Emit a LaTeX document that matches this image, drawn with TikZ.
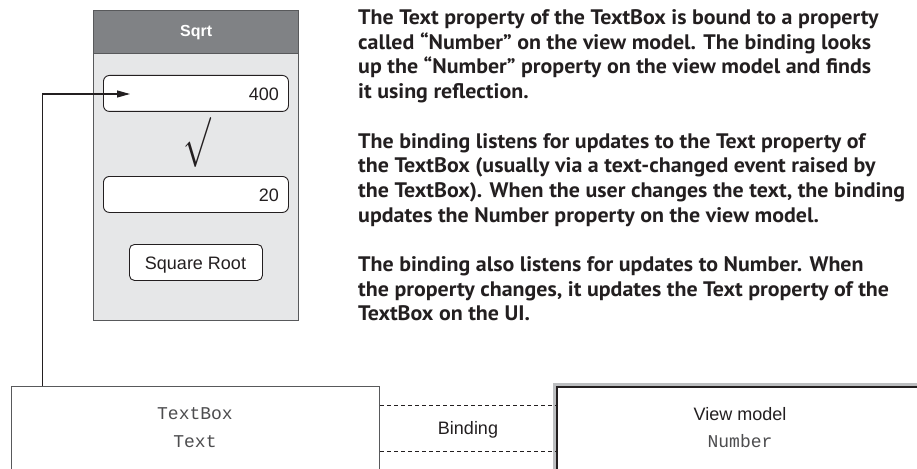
\documentclass[tikz,border=0pt]{standalone}
\usepackage{fontspec}
\usepackage{graphicx}
\usetikzlibrary{arrows.meta}
\newfontfamily\uifont{Liberation Sans}
\newfontfamily\codefont{Liberation Mono}
\newfontfamily\parafont{PT Sans}
\definecolor{ink}{HTML}{231F20}
\definecolor{winedge}{HTML}{58595B}
\definecolor{winbody}{HTML}{E6E7E8}
\definecolor{titlegray}{HTML}{808285}
\definecolor{shadowgray}{HTML}{BCBEC0}
\definecolor{codegray}{HTML}{4D4D4F}
\newlength\myparaw
\newcommand\myparaline[1]{\scalebox{\mysx}[1]{\parafont\bfseries\fontsize{21}{22}\selectfont #1}}
\begin{document}
\settowidth\myparaw{\parafont\bfseries\fontsize{21}{22}\selectfont the TextBox). When the user changes the text, the binding}
\pgfmathsetmacro\mysx{547/\myparaw}
\begin{tikzpicture}[x=1pt,y=-1pt,
  field/.style={draw=ink, fill=white, line width=0.9pt, rounded corners=6pt, inner sep=0pt, anchor=north west},
  uitext/.style={text=ink, inner sep=0pt, font=\uifont\fontsize{18}{18}\selectfont},
  codetext/.style={text=codegray, inner sep=0pt, anchor=base, font=\codefont\fontsize{18}{18}\selectfont},
  paraline/.style={anchor=base west, inner sep=0pt, text=ink},
  conn/.style={draw=ink, line width=1.1pt},
  dashline/.style={draw=ink, line width=0.9pt, dash pattern=on 4pt off 3pt}]
\useasboundingbox (0,0) rectangle (917,468);
\clip (0,0) rectangle (917,468);
% window
\node[draw=winedge, fill=winbody, line width=1.2pt, minimum width=205pt, minimum height=310pt, anchor=north west, inner sep=0pt] (win) at (93,10) {};
\node[draw=winedge, fill=titlegray, line width=1.2pt, minimum width=205pt, minimum height=43pt, anchor=north west, inner sep=0pt, text=white, font=\uifont\bfseries\fontsize{16}{16}\selectfont] (title) at (win.north west) {Sqrt};
\node[field, minimum width=185pt, minimum height=36pt] (tb1) at (103,75) {};
\node[uitext, anchor=base east] (v400) at (279,100) {400};
\node[text=ink, inner sep=0pt] (surd) at (197,142) {\scalebox{3.3}[5.0]{$\surd$}};
\node[field, minimum width=185pt, minimum height=36pt] (tb2) at (103,176) {};
\node[uitext, anchor=base east] (v20) at (279,201) {20};
\node[field, rounded corners=5pt, minimum width=133pt, minimum height=36pt] (btn) at (129,244) {};
\node[uitext, anchor=base] (btntext) at (195.5,269) {Square Root};
% bottom boxes
\node[draw=winedge, fill=white, line width=1.2pt, minimum width=368.5pt, minimum height=100pt, anchor=north west, inner sep=0pt] (lb) at (10.5,386) {};
\node[codetext] (lbt1) at (195,419) {TextBox};
\node[codetext] (lbt2) at (195,447.5) {Text};
\node[fill=shadowgray, minimum width=390pt, minimum height=100pt, anchor=north west, inner sep=0pt] (shadow) at (552.5,382.5) {};
\node[draw=ink, fill=white, line width=2.4pt, minimum width=380pt, minimum height=100pt, anchor=north west, inner sep=0pt] (rb) at (556,386) {};
\node[uitext, anchor=base] (rbt1) at (740,420) {View model};
\node[codetext] (rbt2) at (740,447) {Number};
\coordinate (dA) at (0,405.5);
\coordinate (dB) at (0,451.5);
\draw[dashline] (lb.east |- dA) -- (rb.west |- dA);
\draw[dashline] (lb.east |- dB) -- (rb.west |- dB);
\node[uitext, anchor=base] (bind) at (468,434) {Binding};
% arrow
\coordinate (bend) at (42.5,94);
\coordinate (tip) at (130,94);
\draw[conn, -{Triangle[length=13pt,width=7pt]}] (lb.north -| bend) -- (bend) -- (tip);
% paragraphs
\node[paraline] (p1) at (358,24.5) {\myparaline{The Text property of the TextBox is bound to a property}};
\node[paraline] (p2) at (358,49.2) {\myparaline{called “Number” on the view model. The binding looks}};
\node[paraline] (p3) at (358,73.9) {\myparaline{up the “Number” property on the view model and finds}};
\node[paraline] (p4) at (358,98.6) {\myparaline{it using reflection.}};
\node[paraline] (p5) at (358,148) {\myparaline{The binding listens for updates to the Text property of}};
\node[paraline] (p6) at (358,172.7) {\myparaline{the TextBox (usually via a text-changed event raised by}};
\node[paraline] (p7) at (358,197.4) {\myparaline{the TextBox). When the user changes the text, the binding}};
\node[paraline] (p8) at (358,222.1) {\myparaline{updates the Number property on the view model.}};
\node[paraline] (p9) at (358,271.5) {\myparaline{The binding also listens for updates to Number. When}};
\node[paraline] (p10) at (358,296.2) {\myparaline{the property changes, it updates the Text property of the}};
\node[paraline] (p11) at (358,320.9) {\myparaline{TextBox on the UI.}};
\end{tikzpicture}
\end{document}
